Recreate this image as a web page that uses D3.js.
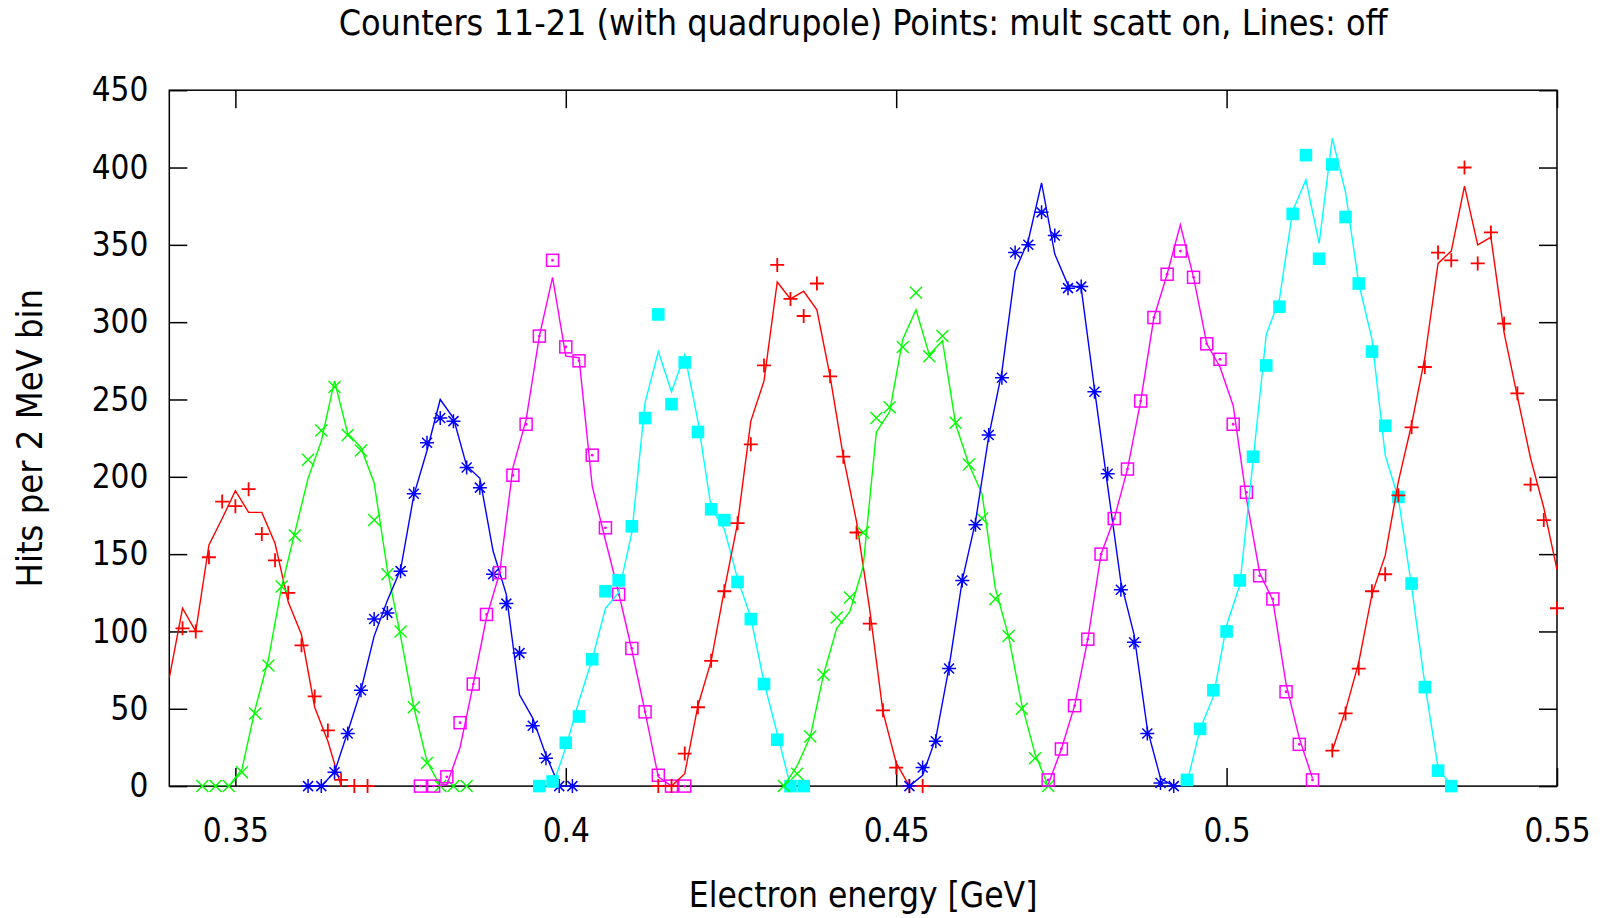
<!DOCTYPE html>
<html>
<head>
<meta charset="utf-8">
<script src="https://cdn.jsdelivr.net/npm/d3@7"></script>
<style>
  html, body { margin: 0; padding: 0; background: #fff; }
  svg { display: block; }
  text { font-family: "DejaVu Sans Condensed", "DejaVu Sans", sans-serif; fill: #000; }
</style>
</head>
<body>
<svg id="chart" width="1607" height="918"></svg>
<script>
// ---- axis ticks ----
const energyTicks = [0.35, 0.40, 0.45, 0.50, 0.55];          // GeV
const hitTicks = [0, 50, 100, 150, 200, 250, 300, 350, 400, 450];
const binWidth = 0.002;                                        // 2 MeV bins

// ---- counters 11..21 ----
const counterIds   = [11, 12, 13, 14, 15, 16, 17, 18, 19, 20, 21];
const counterColor = ["#ff0000", "#00ff00", "#0000ff", "#ff00ff", "#00ffff",
                      "#ff0000", "#00ff00", "#0000ff", "#ff00ff", "#00ffff", "#ff0000"];
const counterSymbol = ["plus", "cross", "star", "box", "fbox",
                       "plus", "cross", "star", "box", "fbox", "plus"];

// centre of the first bin (GeV) for each counter: points / lines
const pointStart = [0.342, 0.345, 0.361, 0.378, 0.396, 0.414, 0.433, 0.452, 0.473, 0.494, 0.516];
const lineStart  = [0.340, 0.345, 0.361, 0.378, 0.396, 0.414, 0.433, 0.452, 0.473, 0.494, 0.516];

// hits per bin, multiple scattering on (points)
const scattOn11 = [102, 100, 148, 184, 181, 192, 163, 146, 125, 91, 58, 36, 4, 0, 0];
const scattOn12 = [0, 0, 0, 9, 47, 78, 129, 162, 211, 230, 258, 227, 217, 172, 137, 100, 51, 15, 0, 0, 0];
const scattOn13 = [0, 0, 9, 34, 62, 108, 112, 139, 189, 222, 238, 236, 206, 193, 137, 118, 86, 39, 18, 0, 0];
const scattOn14 = [0, 0, 6, 41, 66, 111, 138, 201, 234, 291, 340, 284, 275, 214, 167, 124, 89, 48, 7, 0, 0];
const scattOn15 = [0, 3, 28, 45, 82, 126, 133, 168, 238, 305, 247, 274, 229, 179, 172, 132, 108, 66, 30, 0, 0];
const scattOn16 = [0, 0, 21, 51, 81, 126, 170, 221, 272, 337, 315, 304, 325, 265, 213, 164, 105, 49, 12, 0, 0];
const scattOn17 = [0, 8, 32, 72, 109, 122, 164, 238, 245, 284, 319, 278, 291, 235, 208, 173, 121, 97, 50, 18, 0];
const scattOn18 = [0, 12, 29, 76, 133, 169, 227, 264, 345, 350, 371, 356, 322, 323, 255, 202, 127, 93, 34, 2, 0];
const scattOn19 = [4, 24, 52, 95, 150, 173, 205, 249, 303, 331, 346, 329, 286, 276, 234, 190, 136, 121, 61, 27, 4];
const scattOn20 = [4, 37, 62, 100, 133, 213, 272, 310, 370, 408, 341, 402, 368, 325, 281, 233, 187, 131, 64, 10, 0];
const scattOn21 = [23, 47, 76, 126, 137, 188, 232, 271, 345, 340, 400, 338, 358, 299, 254, 195, 172, 115];

// hits per bin, multiple scattering off (lines)
const scattOff11 = [70, 115, 100, 156, 173, 191, 177, 177, 157, 119, 98, 51, 29, 0];
const scattOff12 = [0, 0, 0, 11, 50, 82, 129, 164, 199, 223, 262, 228, 219, 196, 140, 97, 51, 16, 0];
const scattOff13 = [0, 0, 9, 35, 62, 97, 120, 140, 188, 217, 250, 238, 207, 199, 152, 124, 59, 44, 20, 0];
const scattOff14 = [0, 0, 1, 25, 66, 109, 138, 206, 237, 291, 329, 278, 277, 194, 159, 125, 88, 48, 6, 0];
const scattOff15 = [0, 0, 25, 55, 82, 115, 125, 164, 248, 281, 255, 279, 236, 180, 166, 134, 109, 67, 34, 0];
const scattOff16 = [0, 0, 8, 52, 81, 127, 170, 236, 262, 326, 315, 320, 308, 265, 213, 171, 114, 48, 15, 0];
const scattOff17 = [0, 13, 32, 72, 102, 113, 142, 229, 242, 289, 308, 279, 288, 234, 208, 189, 128, 97, 53, 21, 0];
const scattOff18 = [0, 7, 31, 77, 133, 171, 226, 268, 333, 353, 390, 344, 324, 322, 257, 194, 132, 98, 37, 5, 0];
const scattOff19 = [1, 24, 52, 95, 150, 173, 205, 249, 303, 331, 363, 329, 286, 271, 246, 186, 138, 120, 66, 31, 5];
const scattOff20 = [2, 37, 58, 104, 130, 210, 292, 315, 372, 392, 351, 419, 384, 325, 289, 214, 186, 129, 66, 12, 0];
const scattOff21 = [23, 49, 80, 124, 149, 197, 234, 277, 338, 346, 388, 350, 355, 293, 252, 212, 180, 140];

const pointsOn = [scattOn11, scattOn12, scattOn13, scattOn14, scattOn15, scattOn16,
                  scattOn17, scattOn18, scattOn19, scattOn20, scattOn21];
const linesOff = [scattOff11, scattOff12, scattOff13, scattOff14, scattOff15, scattOff16,
                  scattOff17, scattOff18, scattOff19, scattOff20, scattOff21];

const titleText = "Counters 11-21 (with quadrupole) Points: mult scatt on, Lines: off";
const xLabel = "Electron energy [GeV]";
const yLabel = "Hits per 2 MeV bin";

// ---- layout ----
const W = 1607, H = 918;
const plot = { left: 169.3, right: 1557, top: 90.2, bottom: 786.1 };

const svg = d3.select("#chart");
svg.append("rect").attr("width", W).attr("height", H).attr("fill", "#fff");

const x = d3.scaleLinear().domain([0.34, 0.55]).range([plot.left, plot.right]);
const y = d3.scaleLinear().domain([0, 450]).range([plot.bottom, plot.top]);

svg.append("defs").append("clipPath").attr("id", "plotClip")
  .append("rect")
  .attr("x", plot.left).attr("y", plot.top)
  .attr("width", plot.right - plot.left).attr("height", plot.bottom - plot.top);

const fmtEnergy = d => String(+d.toFixed(2));
const tickLen = 18;
const tickFont = 33;

function styleAxis(g) {
  g.select(".domain").remove();
  g.selectAll(".tick line").attr("stroke", "#000").attr("stroke-width", 1.5);
  g.attr("font-size", tickFont);
  g.selectAll(".tick text").attr("fill", "#000");
}

// bottom axis with labels
svg.append("g")
  .attr("transform", `translate(0,${plot.bottom})`)
  .call(d3.axisBottom(x).tickValues(energyTicks).tickSize(-tickLen).tickPadding(32).tickFormat(fmtEnergy))
  .call(styleAxis);

// top mirror ticks
svg.append("g")
  .attr("transform", `translate(0,${plot.top})`)
  .call(d3.axisTop(x).tickValues(energyTicks).tickSize(-tickLen).tickFormat(""))
  .call(styleAxis);

// left axis with labels
svg.append("g")
  .attr("transform", `translate(${plot.left},0)`)
  .call(d3.axisLeft(y).tickValues(hitTicks).tickSize(-tickLen).tickPadding(21))
  .call(styleAxis);

// right mirror ticks
svg.append("g")
  .attr("transform", `translate(${plot.right},0)`)
  .call(d3.axisRight(y).tickValues(hitTicks).tickSize(-tickLen).tickFormat(""))
  .call(styleAxis);

// frame
svg.append("rect")
  .attr("x", plot.left).attr("y", plot.top)
  .attr("width", plot.right - plot.left).attr("height", plot.bottom - plot.top)
  .attr("fill", "none").attr("stroke", "#000").attr("stroke-width", 1.5);

// ---- markers ----
function drawMarker(g, kind, color) {
  if (kind === "plus") {
    g.append("path").attr("d", "M-7,0H7M0,-7V7")
      .attr("stroke", color).attr("stroke-width", 1.8).attr("fill", "none");
  } else if (kind === "cross") {
    g.append("path").attr("d", "M-6,-6L6,6M-6,6L6,-6")
      .attr("stroke", color).attr("stroke-width", 1.4).attr("fill", "none");
  } else if (kind === "star") {
    g.append("path").attr("d", "M-7,0H7M0,-7V7M-5,-5L5,5M-5,5L5,-5")
      .attr("stroke", color).attr("stroke-width", 1.5).attr("fill", "none");
  } else if (kind === "box") {
    g.append("rect").attr("x", -6).attr("y", -6).attr("width", 12).attr("height", 12)
      .attr("stroke", color).attr("stroke-width", 1.5).attr("fill", "none");
    g.append("circle").attr("r", 1.4).attr("fill", color);
  } else if (kind === "fbox") {
    g.append("rect").attr("x", -6.3).attr("y", -6.3).attr("width", 12.6).attr("height", 12.6)
      .attr("fill", color);
  }
}

const curve = d3.line().x(d => x(d.e)).y(d => y(d.v));
const binsOf = (start, values) => values.map((v, i) => ({ e: start + i * binWidth, v }));

counterIds.forEach((id, k) => {
  const color = counterColor[k];
  const lineData = binsOf(lineStart[k], linesOff[k]);
  const pointData = binsOf(pointStart[k], pointsOn[k]);

  svg.append("path")
    .datum(lineData)
    .attr("class", `line-c${id}`)
    .attr("clip-path", "url(#plotClip)")
    .attr("d", curve)
    .attr("fill", "none")
    .attr("stroke", color)
    .attr("stroke-width", 1.4);

  svg.append("g").attr("class", `points-c${id}`)
    .selectAll("g")
    .data(pointData)
    .join("g")
    .attr("transform", d => `translate(${x(d.e)},${y(d.v)})`)
    .each(function () { drawMarker(d3.select(this), counterSymbol[k], color); });
});

// ---- titles ----
svg.append("text")
  .attr("x", (plot.left + plot.right) / 2).attr("y", 35)
  .attr("text-anchor", "middle").attr("font-size", 35.6)
  .text(titleText);

svg.append("text")
  .attr("x", (plot.left + plot.right) / 2).attr("y", 907)
  .attr("text-anchor", "middle").attr("font-size", 35)
  .text(xLabel);

svg.append("text")
  .attr("transform", `translate(42,${(plot.top + plot.bottom) / 2}) rotate(-90)`)
  .attr("text-anchor", "middle").attr("font-size", 36)
  .text(yLabel);
</script>
</body>
</html>
